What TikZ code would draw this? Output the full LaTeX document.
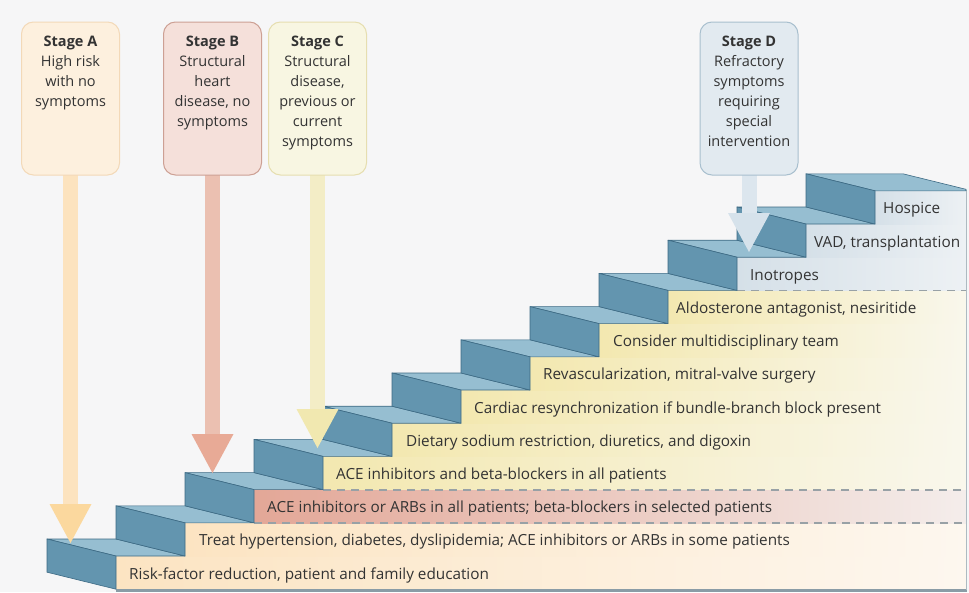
\documentclass[tikz,border=0pt]{standalone}
\usepackage{fontspec}
\setmainfont{Open Sans}
\usetikzlibrary{calc}
\definecolor{bgc}{HTML}{F6F6F7}
\definecolor{riser}{HTML}{6395AF}
\definecolor{tread}{HTML}{96BED1}
\definecolor{edge}{HTML}{3D6A84}
\definecolor{txt}{HTML}{333333}
\definecolor{lA}{HTML}{FCE4C2}\definecolor{rA}{HTML}{FDF7EF}
\definecolor{lB}{HTML}{E3A797}\definecolor{rB}{HTML}{F4EDEB}
\definecolor{lC}{HTML}{F3E8B0}\definecolor{rC}{HTML}{F9F7EC}
\definecolor{lD}{HTML}{D5E0E8}\definecolor{rD}{HTML}{EDF1F4}
\definecolor{arrA}{HTML}{FBD89E}\definecolor{stemA}{HTML}{FCE3BF}\definecolor{boxA}{HTML}{FDF0DE}\definecolor{lineA}{HTML}{F3D9B8}
\definecolor{arrB}{HTML}{E8AA96}\definecolor{stemB}{HTML}{EBC0B1}\definecolor{boxB}{HTML}{F5E0DA}\definecolor{lineB}{HTML}{CDA094}
\definecolor{arrC}{HTML}{F1E8B0}\definecolor{stemC}{HTML}{F3EDC6}\definecolor{boxC}{HTML}{F8F6E2}\definecolor{lineC}{HTML}{E6DEB0}
\definecolor{arrD}{HTML}{D6E2EB}\definecolor{stemD}{HTML}{DCE6EE}\definecolor{boxD}{HTML}{E2EAF0}\definecolor{lineD}{HTML}{A8BFCE}
\definecolor{dashc}{HTML}{98A1A6}
\definecolor{framec}{HTML}{8A9CA6}

\pgfdeclarelayer{bottom}
\pgfdeclarelayer{mid}
\pgfsetlayers{bottom,mid,main}

% #1 box node, #2 tip coordinate, #3 head colour, #4 stem colour
\newcommand\stagearrow[4]{%
  \path[fill=#4]
    let \p1=(#1.south), \p2=(#2) in
    (\x2-7.5pt,\y1+6pt) rectangle (\x2+7.5pt,\y2+39.5pt);
  \path[fill=#3, line join=round]
    let \p2=(#2) in
    (\x2-21pt,\y2+39pt) -- (\x2,\y2) -- (\x2+21pt,\y2+39pt) -- cycle;}

\begin{document}
\begin{tikzpicture}[x=1pt,y=-1pt,
  stagebox/.style={rounded corners=12pt, line width=1pt, minimum width=98pt,
    minimum height=153pt, inner sep=0pt, text=txt},
  steptext/.style={anchor=west, text=txt, font=\fontsize{15.3}{18}\selectfont,
    inner sep=0pt, text height=11pt, text depth=3pt},
  risershape/.style={fill=riser, draw=edge, line width=0.6pt, line join=round},
  treadshape/.style={fill=tread, draw=edge, line width=0.6pt, line join=round},
  sepline/.style={draw=dashc, line width=1.8pt, dash pattern=on 8pt off 6pt},
]
\begin{pgfonlayer}{bottom}
\fill[bgc] (0,0) rectangle (969,592);
\coordinate (re) at (966,0);

% coloured bands
\foreach \i/\st in {1/A,2/A,3/B,4/C,5/C,6/C,7/C,8/C,9/C,10/D,11/D,12/D}{
  \pgfmathsetmacro\xo{47+69*\i}
  \pgfmathsetmacro\yo{539-33.2*(\i-1)+17}
  \shade[left color=l\st, right color=r\st] (\xo,\yo-0.2) rectangle (966,\yo+33.4);
}

% dashed separators
\coordinate (d1) at (323,489.6);
\coordinate (d2) at (254,522.8);
\coordinate (d3) at (737,290.4);
\draw[sepline] (d1) -- (d1 -| re);
\draw[sepline] (d2) -- (d2 -| re);
\draw[sepline] (d3) -- (d3 -| re);

% frame
\draw[framec, line width=2.5pt] (116,590.4) -- (967,590.4);
\draw[framec!70, line width=1pt] (966,190) -- (966,590);

% stairs
\foreach \i in {1,...,11}{
  \pgfmathsetmacro\xo{47+69*(\i-1)}
  \pgfmathsetmacro\yo{539-33.2*(\i-1)}
  \path[treadshape] (\xo,\yo) -- ++(69,0) -- ++(69,17) -- ++(-69,0) -- cycle;
  \path[risershape] (\xo,\yo) -- ++(69,17) -- ++(0,33.2) -- ++(-69,-17) -- cycle;
}
\path[treadshape] (806,173.8) -- (903,173.8) -- (966,189.3) -- (966,190.8) -- (875,190.8) -- cycle;
\path[risershape] (806,173.8) -- ++(69,17) -- ++(0,33.2) -- ++(-69,-17) -- cycle;

% step texts
\foreach \i/\dx/\tx in {
  1/13/{Risk-factor reduction, patient and family education},
  2/14/{Treat hypertension, diabetes, dyslipidemia; ACE inhibitors or ARBs in some patients},
  3/13/{ACE inhibitors or ARBs in all patients; beta-blockers in selected patients},
  4/13/{ACE inhibitors and beta-blockers in all patients},
  5/14/{Dietary sodium restriction, diuretics, and digoxin},
  6/13/{Cardiac resynchronization if bundle-branch block present},
  7/13/{Revascularization, mitral-valve surgery},
  8/14/{Consider multidisciplinary team},
  9/8/{Aldosterone antagonist, nesiritide},
  10/13/{Inotropes},
  11/8/{VAD, transplantation},
  12/8/{Hospice}}{
  \pgfmathsetmacro\xo{47+69*\i+\dx}
  \pgfmathsetmacro\yo{539-33.2*(\i-1)+17+16.6+2.5}
  \node[steptext] (s\i) at (\xo,\yo) {\tx};
}
\end{pgfonlayer}

% stage boxes
\node[stagebox, fill=boxA, draw=lineA] (sA) at (70.5,98.5)
  {\parbox[t][125pt][t]{96pt}{\centering\fontsize{14.5}{20}\selectfont
   \textbf{Stage A}\\High risk\\with no\\symptoms}};
\node[stagebox, fill=boxB, draw=lineB] (sB) at (212.5,98.5)
  {\parbox[t][125pt][t]{96pt}{\centering\fontsize{14.5}{20}\selectfont
   \textbf{Stage B}\\Structural\\heart\\disease, no\\symptoms}};
\node[stagebox, fill=boxC, draw=lineC] (sC) at (317.5,98.5)
  {\parbox[t][125pt][t]{96pt}{\centering\fontsize{14.5}{20}\selectfont
   \textbf{Stage C}\\Structural\\disease,\\previous or\\current\\symptoms}};
\node[stagebox, fill=boxD, draw=lineD] (sD) at (749,98.5)
  {\parbox[t][125pt][t]{96pt}{\centering\fontsize{14.5}{20}\selectfont
   \textbf{Stage D}\\Refractory\\symptoms\\requiring\\special\\intervention}};

% arrow tips
\coordinate (tA) at (70.5,543);
\coordinate (tB) at (212.5,473);
\coordinate (tC) at (317.5,448);
\coordinate (tD) at (749,252);

\begin{pgfonlayer}{mid}
\stagearrow{sA}{tA}{arrA}{stemA}
\stagearrow{sB}{tB}{arrB}{stemB}
\stagearrow{sC}{tC}{arrC}{stemC}
\stagearrow{sD}{tD}{arrD}{stemD}
\end{pgfonlayer}
\useasboundingbox (0,0) rectangle (969,592);
\end{tikzpicture}
\end{document}
